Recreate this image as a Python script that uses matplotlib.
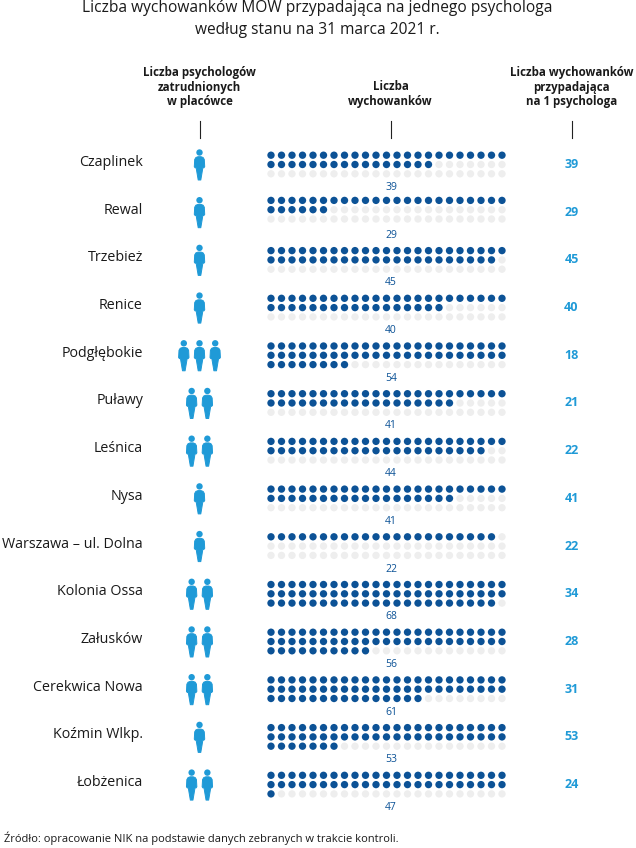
import matplotlib
matplotlib.use("Agg")
import matplotlib.pyplot as plt
from matplotlib.patches import Circle, Polygon

plt.rcParams["font.family"] = ["Open Sans", "DejaVu Sans"]

places = ["Czaplinek", "Rewal", "Trzebież", "Renice", "Podgłębokie", "Puławy", "Leśnica", "Nysa",
          "Warszawa – ul. Dolna", "Kolonia Ossa", "Załusków", "Cerekwica Nowa", "Koźmin Wlkp.", "Łobżenica"]
psychologists = [1, 1, 1, 1, 3, 2, 2, 1, 1, 2, 2, 2, 1, 2]
pupils = [39, 29, 45, 40, 54, 41, 44, 41, 22, 68, 56, 61, 53, 47]
per_psychologist = [39, 29, 45, 40, 18, 21, 22, 41, 22, 34, 28, 31, 53, 24]

DARK = "#0c5296"
GREY = "#eeeeee"
BLUE = "#1f9ad7"
COLS = 23
ROWS = 3
PITCH = 47.7

# icon outline, relative to the middle of the head
BODY = [(-1.5, 4.2), (1.5, 4.2), (3.6, 5.0), (4.8, 7.0), (5.2, 14.2), (4.3, 15.4), (3.4, 15.0),
        (2.4, 21.0), (1.3, 27.5), (-1.3, 27.5), (-2.4, 21.0), (-3.4, 15.0), (-4.3, 15.4), (-5.2, 14.2),
        (-4.8, 7.0), (-3.6, 5.0)]


def person(ax, x, y):
    ax.add_patch(Circle((x, y), 3.2, color=BLUE, lw=0))
    ax.add_patch(Polygon([(x + a, y + b) for a, b in BODY], closed=True, color=BLUE, lw=0.7, joinstyle="round"))


fig = plt.figure(figsize=(6.36, 8.48), dpi=100)
ax = fig.add_axes([0, 0, 1, 1])
ax.set_xlim(0, 636)
ax.set_ylim(848, 0)
ax.axis("off")

ax.text(317, 8, "Liczba wychowanków MOW przypadająca na jednego psychologa",
        ha="center", va="center", fontsize=11.2, color="#1a1a1a")
ax.text(317, 30, "według stanu na 31 marca 2021 r.",
        ha="center", va="center", fontsize=11.2, color="#1a1a1a")

heads = [(199.5, "Liczba psychologów\nzatrudnionych\nw placówce", 87),
         (390.5, "Liczba\nwychowanków", 94),
         (571.5, "Liczba wychowanków\nprzypadająca\nna 1 psychologa", 87)]
for x, label, y in heads:
    ax.text(x, y, label, ha="center", va="center", fontsize=8.3, fontweight="bold", color="#1a1a1a", linespacing=1.15)
    ax.plot([x, x], [121, 138], color="#222222", lw=0.8)

for i, place in enumerate(places):
    mid = 164.5 + PITCH * i
    ax.text(143, mid - 2, place, ha="right", va="center", fontsize=10.3, color="#1a1a1a")

    n = psychologists[i]
    for k in range(n):
        person(ax, 199.5 + (k - (n - 1) / 2) * 15.7, mid - 12)

    top = mid - 9.3
    if place == "Rewal":
        top -= 2.5
    xs = [271 + (j % COLS) * 10.5 for j in range(COLS * ROWS)]
    ys = [top + (j // COLS) * 9.3 for j in range(COLS * ROWS)]
    colors = [DARK if j < pupils[i] else GREY for j in range(COLS * ROWS)]
    ax.scatter(xs, ys, s=28, c=colors, linewidths=0)

    ax.text(391, mid + 23, str(pupils[i]), ha="center", va="center", fontsize=7.5, color=DARK)
    ax.text(571.5, mid, str(per_psychologist[i]), ha="center", va="center", fontsize=9, fontweight="bold", color=BLUE)

ax.text(4, 838, "Źródło: opracowanie NIK na podstawie danych zebranych w trakcie kontroli.",
        ha="left", va="center", fontsize=8.0, color="#1a1a1a")

fig.savefig("out.png", dpi=100)
